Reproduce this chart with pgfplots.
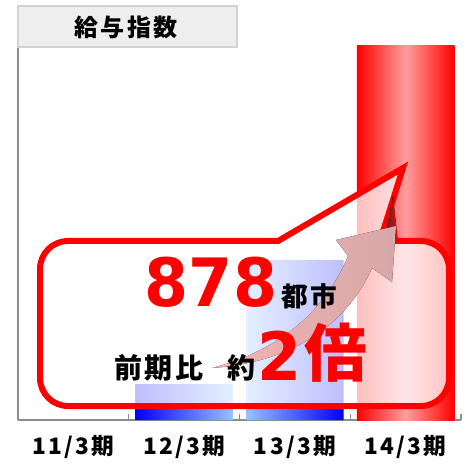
\documentclass[border=0pt]{standalone}
\usepackage{fontspec}
\usepackage{pgfplots}
\pgfplotsset{compat=1.18}
\newfontfamily\cjk[LetterSpace=10]{Noto Sans CJK JP}
\newfontfamily\cjkplain{Noto Sans CJK JP}
\newfontfamily\dv{DejaVu Sans}
\definecolor{barblue}{HTML}{0000FF}
\definecolor{barlight}{HTML}{9FD0FF}
\definecolor{barred}{HTML}{FF0000}
\definecolor{barpink}{HTML}{FF9E9E}
\definecolor{axisgray}{HTML}{8C8C8C}
\definecolor{arrowtail}{RGB}{246,178,178}
\definecolor{arrowhead}{RGB}{214,168,168}

\begin{document}
\begin{tikzpicture}
\begin{axis}[
  at={(0,0)}, anchor=south west,
  scale only axis, width=332.25pt, height=281.25pt,
  xmin=-0.5, xmax=3.5, ymin=0, ymax=878,
  axis x line*=bottom, axis y line*=left,
  axis line style={draw=axisgray, line width=0.8pt, -},
  ytick=\empty,
  xtick={0,1,2,3},
  xticklabels={11/3期,12/3期,13/3期,14/3期},
  major tick length=0pt,
  minor xtick={-0.5,0.5,1.5,2.5,3.5},
  minor tick length=4.5pt,
  tick align=inside, xtick pos=left,
  tick style={draw=axisgray, line width=0.8pt},
  xticklabel style={font=\cjk\bfseries\fontsize{17}{17}\selectfont,
    text=black, anchor=center, yshift=-20pt},
  clip=false,
]
% 12/3, 13/3
\addplot[ybar, bar width=0.88, bar shift=0pt, draw=none,
  left color=barblue, right color=barblue, middle color=barlight]
  coordinates {(1,84) (2,375)};
% 14/3
\addplot[ybar, bar width=0.88, bar shift=0pt, draw=none,
  left color=barred, right color=barred, middle color=barpink]
  coordinates {(3,878)};
\end{axis}

% overlay in pixel coordinates of the 466x469 image
\begin{scope}[x=0.75pt, y=-0.75pt, shift={(-13.5pt,315pt)}]
  % title box
  \draw[fill=gray!13, draw=gray!35, line width=1.5pt] (18,6) rectangle (237,47);
  \node[inner sep=0pt, font=\cjk\bfseries\fontsize{18}{18}\selectfont] at (126,27) {給与指数};

  % callout
  \draw[red, line width=4.5pt, fill=white, fill opacity=0.75, line join=miter]
    (278,241) -- (68,241) arc[start angle=270, end angle=180, radius=28]
    -- (40,378) arc[start angle=180, end angle=90, radius=28]
    -- (421,406) arc[start angle=90, end angle=0, radius=28]
    -- (449,269) arc[start angle=0, end angle=-90, radius=28]
    -- (380,241) -- (403,168) -- cycle;

  % shadow beside the tail
  \fill[left color=black!80, right color=red]
    (384,243) -- (393,196) -- (398,243) -- cycle;

  % rising arrow
  \fill[left color=arrowtail, right color=arrowhead]
    (212,368) .. controls (290,348) and (330,300) .. (348,256)
    -- (336,240) -- (396,226) -- (392,282) -- (372,268)
    .. controls (348,322) and (296,362) .. (212,368) -- cycle;

  % texts
  \node[inner sep=0pt, text=red, font=\dv\bfseries\fontsize{50}{50}\selectfont, xscale=0.95]
    at (211,282) {878};
  \node[inner sep=0pt, font=\cjk\bfseries\fontsize{20}{20}\selectfont] at (309,296) {都市};
  \node[inner sep=0pt, font=\cjk\bfseries\fontsize{21}{21}\selectfont] at (159,368) {前期比};
  \node[inner sep=0pt, font=\cjk\bfseries\fontsize{21}{21}\selectfont] at (241,368) {約};
  \node[inner sep=0pt, text=red, font=\dv\bfseries\fontsize{50}{50}\selectfont, xscale=0.95]
    at (280,356) {2};
  \node[inner sep=0pt, text=red, font=\cjkplain\bfseries\fontsize{47}{47}\selectfont]
    at (336,353) {倍};

  \pgfresetboundingbox
  \useasboundingbox (0,0) rectangle (466,469);
\end{scope}
\end{tikzpicture}
\end{document}
